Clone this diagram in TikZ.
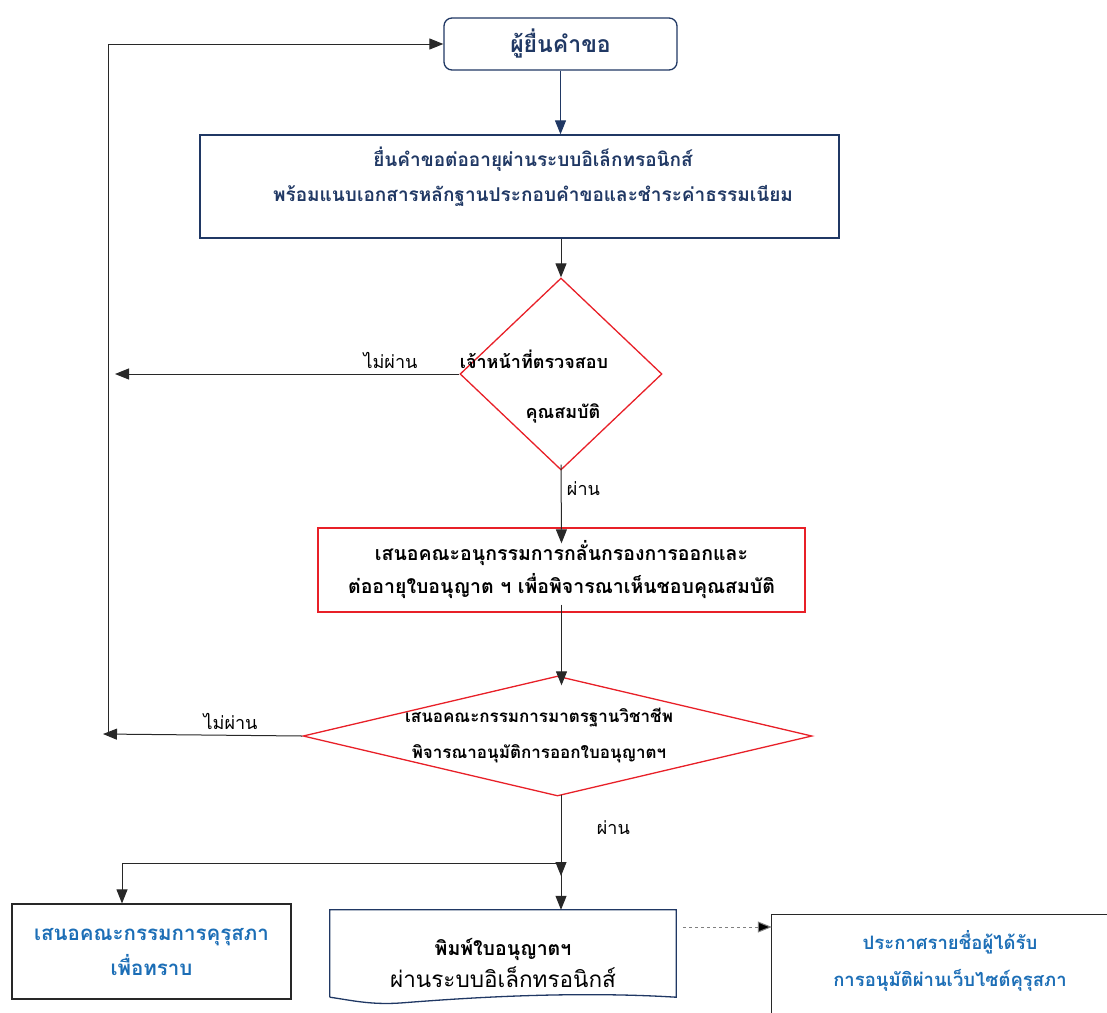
\documentclass[tikz,border=0pt]{standalone}
\usepackage{fontspec}
\setmainfont[Script=Thai]{Loma}
\usetikzlibrary{arrows.meta,shapes.geometric}

\definecolor{navy}{RGB}{32,56,100}
\definecolor{redline}{RGB}{232,32,40}
\definecolor{bluetxt}{RGB}{28,110,182}
\definecolor{darkline}{RGB}{40,40,40}

\tikzset{
	flow/.style={draw=darkline, line width=1pt, -{Triangle[length=14pt,width=11pt]}},
	navybox/.style={draw=navy, line width=1.3pt, rectangle, inner sep=0pt},
	redbox/.style={draw=redline, line width=1.3pt, rectangle, inner sep=0pt},
	greybox/.style={draw=darkline, line width=1.2pt, rectangle, inner sep=0pt},
	decision/.style={draw=redline, line width=1.3pt, diamond, inner sep=0pt},
	boldtext/.style={font=\fontsize{19}{34}\selectfont\bfseries, align=center},
	flowlabel/.style={font=\fontsize{18}{20}\selectfont}
}

\begin{document}
\begin{tikzpicture}[x=1pt,y=-1pt]
			\useasboundingbox (0,0) rectangle (1107,1012);

			% applicant and online request
			\node[navybox, rounded corners=8pt, minimum width=233pt, minimum height=52pt, text=navy, boldtext, font=\fontsize{23}{28}\selectfont\bfseries] (applicant) at (560.5,44) {ผู้ยื่นคำขอ};
			\node[navybox, minimum width=639pt, minimum height=103pt] (renew) at (519.5,186.5) {};
			\node[boldtext, text=navy, font=\fontsize{19}{35}\selectfont\bfseries] (renewtext) at (533,177) {ยื่นคำขอต่ออายุผ่านระบบอิเล็กทรอนิกส์\\พร้อมแนบเอกสารหลักฐานประกอบคำขอและชำระค่าธรรมเนียม};

			% first check by staff
			\node[decision, minimum width=202pt, minimum height=192pt] (check) at (561,374) {};
			\node[boldtext, font=\fontsize{18}{50}\selectfont\bfseries] (checktext) at (534,387) {เจ้าหน้าที่ตรวจสอบ\\\hspace*{58pt}คุณสมบัติ};

			% sub-committee
			\node[redbox, minimum width=487pt, minimum height=84pt, boldtext, font=\fontsize{19.5}{33}\selectfont\bfseries] (subcom) at (561.5,570) {เสนอคณะอนุกรรมการกลั่นกรองการออกและ\\ต่ออายุใบอนุญาต ฯ เพื่อพิจารณาเห็นชอบคุณสมบัติ};

			% standards committee
			\node[decision, minimum width=509pt, minimum height=120pt] (approve) at (557.5,736) {};
			\node[boldtext, font=\fontsize{17}{36}\selectfont\bfseries] (approvetext) at (539,736) {เสนอคณะกรรมการมาตรฐานวิชาชีพ\\พิจารณาอนุมัติการออกใบอนุญาตฯ};

			% outcomes
			\node[greybox, minimum width=279pt, minimum height=95pt, boldtext, text=bluetxt, font=\fontsize{20.5}{35}\selectfont\bfseries] (council) at (151.5,951.5) {เสนอคณะกรรมการคุรุสภา\\เพื่อทราบ};
			\node[minimum width=346pt, minimum height=87pt, inner sep=0pt] (print) at (503,953.5) {};
			\draw[navy, line width=1.3pt] (print.south west) -- (print.north west) -- (print.north east) -- (print.south east)
				.. controls (560,990) and (440,1000) .. (400,1003) .. controls (370,1005) and (350,1000) .. (print.south west);
			\node[align=center, font=\fontsize{19.5}{32}\selectfont] (printtext) at (503,963) {\textbf{พิมพ์ใบอนุญาตฯ}\\\fontsize{22.5}{32}\selectfont ผ่านระบบอิเล็กทรอนิกส์};
			\node[minimum width=380pt, minimum height=120pt, inner sep=0pt] (notice) at (962,975) {};
			\draw[darkline, line width=1.2pt] (notice.north east) -- (notice.north west) -- (notice.south west);
			\node[text=bluetxt, font=\fontsize{18.5}{37}\selectfont\bfseries, align=center] (noticetext) at (950,961) {ประกาศรายชื่อผู้ได้รับ\\การอนุมัติผ่านเว็บไซต์คุรุสภา};

			% feedback loop
			\coordinate (loopbot) at (108,734);
			\coordinate (fail1) at (115,374);
			\coordinate (fail2) at (103,734);
			\coordinate (split) at (561,863);
			\coordinate (splitleft) at (122,863);

			\draw[flow, draw=navy] (applicant.south) -- (applicant.south |- renew.north);
			\draw[flow] (renew.south -| check) -- (check);
			\draw[flow] (check.west) -- node[flowlabel, above, pos=0.2, yshift=2pt] {ไม่ผ่าน} (fail1);
			\draw[flow] ([yshift=6pt]check.south) -- node[flowlabel, right, xshift=2pt, pos=0.3] {ผ่าน} ([yshift=-16pt]subcom.north);
			\draw[flow] ([yshift=8pt]subcom.south) -- ([yshift=-10pt]approve.north -| subcom);
			\draw[flow] (approve.west) -- node[flowlabel, above, pos=0.36, yshift=2pt] {ไม่ผ่าน} (fail2);
			\draw[flow] (loopbot) |- (applicant.west);
			\draw[flow] ([yshift=2pt]approve.south -| split) -- node[flowlabel, right, xshift=32pt, pos=0.4] {ผ่าน} ([yshift=-13pt]split);
			\draw[darkline, line width=1pt] (split) -- (splitleft);
			\draw[flow] (splitleft) -- (council.north -| splitleft);
			\draw[flow] ([yshift=3pt]split) -- (print.north -| split);
			\draw[flow, dashed, draw=gray, -{Triangle[length=14pt,width=11pt,fill=black]}] ([xshift=7pt]print.east |- 0,927) -- (notice.west |- 0,927);

		\end{tikzpicture}
\end{document}
